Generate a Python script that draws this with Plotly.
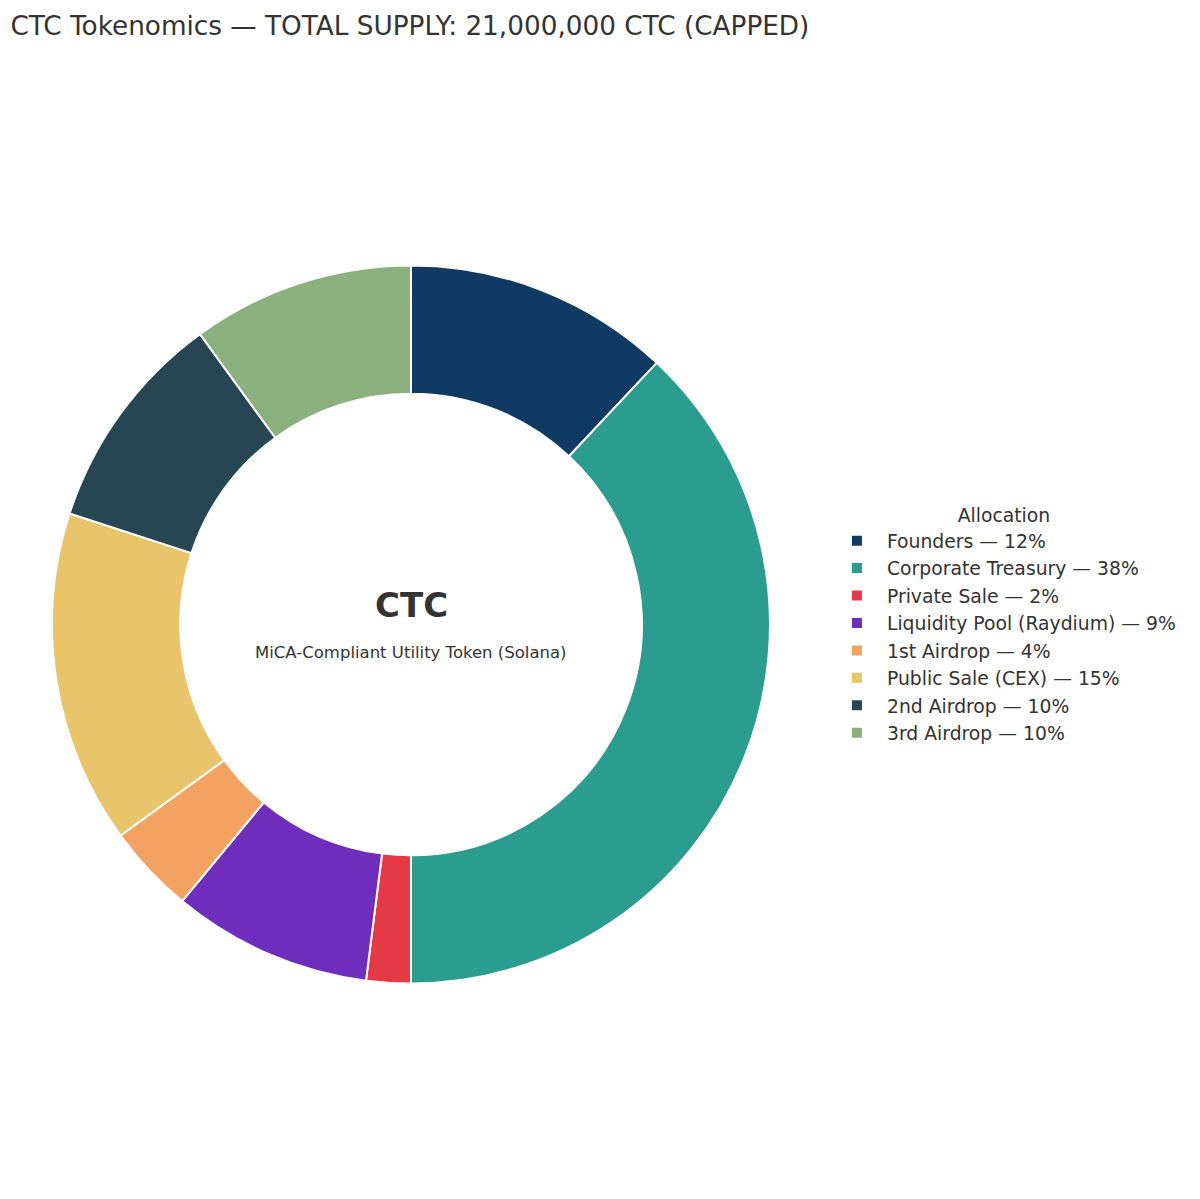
import plotly.graph_objects as go

# Распределение токенов CTC
labels = [
    "Founders", "Corporate Treasury", "Private Sale", "Liquidity Pool (Raydium)",
    "1st Airdrop", "Public Sale (CEX)", "2nd Airdrop", "3rd Airdrop",
]
shares = [12, 38, 2, 9, 4, 15, 10, 10]
colors = [
    "#0f3a63", "#2a9d8f", "#e63946", "#6f2dbd",
    "#f4a261", "#e9c46a", "#264653", "#8ab17d",
]

legend_names = [f"{lab} — {v}%" for lab, v in zip(labels, shares)]

fig = go.Figure()
fig.add_trace(go.Pie(
    labels=legend_names,
    values=shares,
    hole=0.643,
    sort=False,
    direction="clockwise",
    marker=dict(colors=colors, line=dict(color="white", width=2)),
    textinfo="none",
    domain=dict(x=[0, 0.6365], y=[0, 1]),
    hovertemplate="%{label}<extra></extra>",
))

fig.add_annotation(
    x=0.3183, y=0.518, xref="paper", yref="paper",
    xanchor="center", yanchor="middle",
    text="<b>CTC</b>", showarrow=False,
    font=dict(size=34, color="#333333"),
)
fig.add_annotation(
    x=0.3183, y=0.474, xref="paper", yref="paper",
    xanchor="center", yanchor="middle",
    text="MiCA-Compliant Utility Token (Solana)", showarrow=False,
    font=dict(size=16.5, color="#333333"),
)

fig.update_layout(
    width=1200, height=1199,
    title=dict(
        text="CTC Tokenomics — TOTAL SUPPLY: 21,000,000 CTC (CAPPED)",
        x=0.002, xanchor="left", y=0.985, yanchor="middle",
        font=dict(size=26.3, color="#333333"),
    ),
    font=dict(family="DejaVu Sans", color="#333333"),
    paper_bgcolor="white",
    plot_bgcolor="white",
    margin=dict(l=44, r=28, t=72, b=38),
    legend=dict(
        title=dict(text="Allocation", side="top center", font=dict(size=18.8)),
        x=0.687, xanchor="left", y=0.5, yanchor="middle",
        font=dict(size=18.8),
        itemwidth=50,
        traceorder="normal",
    ),
)

fig.write_html("out.html")
